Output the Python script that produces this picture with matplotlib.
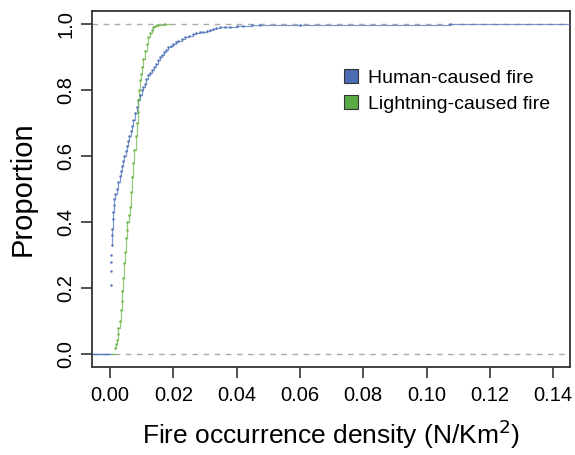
import numpy as np
import matplotlib.pyplot as plt
from matplotlib.patches import Patch

# ECDF knots (x = density, F = cumulative proportion)
human_x = [0.0003, 0.0003, 0.0004, 0.0004, 0.0005, 0.0005, 0.0006, 0.0008, 0.0010,
           0.0012, 0.0014, 0.0017, 0.0021, 0.0025, 0.0030, 0.0034, 0.0037, 0.0041,
           0.0045, 0.0049, 0.0053, 0.0057, 0.0061, 0.0065, 0.0069, 0.0074, 0.0080,
           0.0085, 0.0089, 0.0095, 0.0100, 0.0105, 0.0110, 0.0115, 0.0120, 0.0126,
           0.0131, 0.0138, 0.0145, 0.0152, 0.0158, 0.0165, 0.0172, 0.0178, 0.0184,
           0.0192, 0.0200, 0.0208, 0.0216, 0.0226, 0.0237, 0.0250, 0.0262, 0.0273,
           0.0284, 0.0295, 0.0306, 0.0316, 0.0325, 0.0336, 0.0347, 0.0362, 0.0379,
           0.0400, 0.0420, 0.0447, 0.0474, 0.0600, 0.1075]
human_F = [0.21, 0.25, 0.28, 0.30, 0.33, 0.36, 0.38, 0.41, 0.43,
           0.45, 0.47, 0.485, 0.50, 0.52, 0.54, 0.555, 0.57, 0.585,
           0.60, 0.615, 0.63, 0.645, 0.66, 0.675, 0.69, 0.71, 0.73,
           0.75, 0.77, 0.785, 0.80, 0.81, 0.82, 0.833, 0.845, 0.853,
           0.86, 0.87, 0.88, 0.89, 0.90, 0.908, 0.915, 0.922, 0.93,
           0.935, 0.94, 0.945, 0.95, 0.956, 0.962, 0.965, 0.970, 0.973,
           0.975, 0.977, 0.980, 0.982, 0.984, 0.987, 0.990, 0.991, 0.992,
           0.994, 0.995, 0.997, 0.998, 0.999, 1.0]

light_x = [0.0016, 0.0019, 0.0021, 0.0024, 0.0026, 0.0030, 0.0035, 0.0037, 0.0039,
           0.0042, 0.0045, 0.0048, 0.0050, 0.0053, 0.0055, 0.0059, 0.0063, 0.0066,
           0.0069, 0.0073, 0.0077, 0.0081, 0.0084, 0.0087, 0.0089, 0.0092, 0.0095,
           0.0098, 0.0100, 0.0105, 0.0111, 0.0116, 0.0121, 0.0127, 0.0132, 0.0137,
           0.0142, 0.0147, 0.0152, 0.0175]
light_F = [0.017, 0.03, 0.042, 0.06, 0.078, 0.10, 0.133, 0.16, 0.19,
           0.23, 0.275, 0.31, 0.35, 0.375, 0.40, 0.42, 0.446, 0.49,
           0.537, 0.58, 0.618, 0.66, 0.70, 0.735, 0.77, 0.80, 0.83,
           0.85, 0.87, 0.895, 0.92, 0.94, 0.962, 0.972, 0.982, 0.99,
           0.995, 0.998, 0.999, 1.0]

xticks = [0.00, 0.02, 0.04, 0.06, 0.08, 0.10, 0.12, 0.14]
yticks = [0.0, 0.2, 0.4, 0.6, 0.8, 1.0]

blue = "#5577bb"
green = "#72b84e"

plt.rcParams['font.family'] = ['Liberation Sans', 'DejaVu Sans']

fig = plt.figure(figsize=(5.75, 4.55), dpi=100)
ax = fig.add_axes([92 / 575, 1 - 367 / 455, (570 - 92) / 575, (367 - 11) / 455])
xlim = (-0.0057, 0.1453)
ax.set_xlim(xlim)
ax.set_ylim(-0.04, 1.04)

ax.axhline(0, color="#aaaaaa", lw=1, ls=(0, (4, 4)), zorder=1)
ax.axhline(1, color="#aaaaaa", lw=1, ls=(0, (4, 4)), zorder=1)


def draw_ecdf(xs, fs, color, left, right, first_gap=False):
    xs = np.asarray(xs)
    fs = np.asarray(fs)
    # zero level before the first jump, then the steps
    ax.hlines(0, left, xs[0], color=color, lw=1.0, zorder=3)
    sx = np.concatenate([xs, [right]])
    sf = np.concatenate([fs, [fs[-1]]])
    if first_gap:
        # leave the lowest isolated points unjoined, as in the picture
        k = 4
        ax.step(sx[k:], sf[k:], where="post", color=color, lw=0.9,
                alpha=0.75, zorder=3)
    else:
        ax.step(sx, sf, where="post", color=color, lw=0.9, alpha=0.75, zorder=3)
    ax.plot(xs, fs, "o", ms=1.8, color=color, mec="none", zorder=4)


draw_ecdf(human_x, human_F, blue, xlim[0], xlim[1], first_gap=True)
draw_ecdf(light_x, light_F, green, 0.0002, 0.0190)

ax.set_xticks(xticks)
ax.set_xticklabels(["%.2f" % v for v in xticks])
ax.set_yticks(yticks)
ax.set_yticklabels(["%.1f" % v for v in yticks], rotation=90, va="center")
ax.tick_params(direction="out", length=8, width=1.2, color="#333333",
               labelsize=14.5, pad=6)
ax.tick_params(axis="y", pad=4)
for s in ax.spines.values():
    s.set_linewidth(1.3)
    s.set_color("#333333")

ax.set_xlabel("Fire occurrence density (N/Km$^2$)", fontsize=19, labelpad=9)
ax.set_ylabel("Proportion", fontsize=21, labelpad=14)

handles = [Patch(facecolor="#4a6cb3", edgecolor="#333333", lw=0.8),
           Patch(facecolor="#5aaa46", edgecolor="#333333", lw=0.8)]
ax.legend(handles, ["Human-caused fire", "Lightning-caused fire"],
          loc="upper left", bbox_to_anchor=(0.511, 0.858), frameon=False,
          fontsize=14, handlelength=0.7, handleheight=0.7,
          handletextpad=0.55, labelspacing=0.42, borderaxespad=0)

fig.savefig("out.png", dpi=100)
